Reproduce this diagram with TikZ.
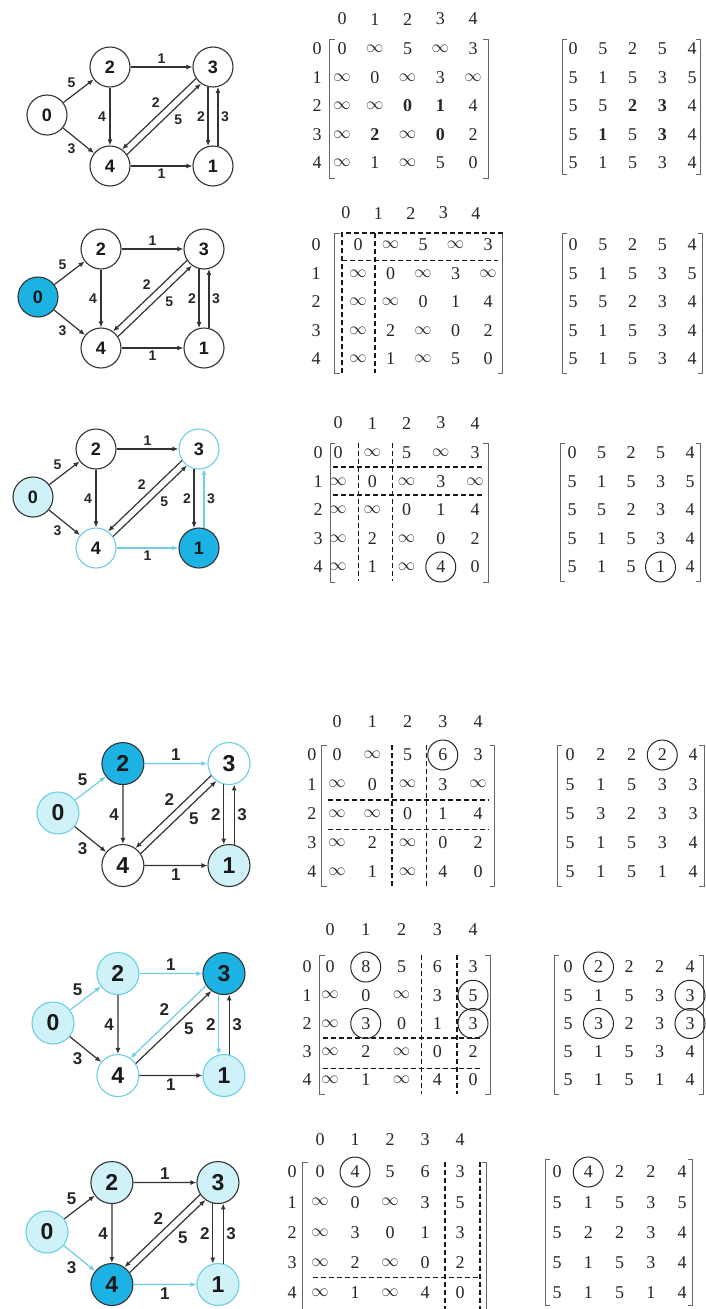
\documentclass[tikz,border=0pt]{standalone}
\usepackage{fontspec}
\setmainfont{Liberation Serif}
\setsansfont{Liberation Sans}
\usetikzlibrary{arrows.meta, positioning}
\definecolor{mCyan}{HTML}{1CB2E3}
\definecolor{mPale}{HTML}{CFF2F8}
\definecolor{mEdge}{HTML}{6FCDE5}
\definecolor{mInk}{HTML}{333333}
\newcommand{\inft}{$\infty$}

% the weighted digraph, nodes named #1-0 ... #1-4
\newcommand{\drawgraph}[1]{%
  \node[vtx,n0] (#1-0) at (0,0) {0};
  \node[vtx,n2] (#1-2) at (63,-48) {2};
  \node[vtx,n3] (#1-3) at (166,-48) {3};
  \node[vtx,n4] (#1-4) at (63,51) {4};
  \node[vtx,n1] (#1-1) at (166,51) {1};
  \draw[link,e02] (#1-0) -- node[wt,above left] {5} (#1-2);
  \draw[link,e04] (#1-0) -- node[wt,below left] {3} (#1-4);
  \draw[link,e23] (#1-2) -- node[wt,above] {1} (#1-3);
  \draw[link,e24] (#1-2) -- node[wt,left=1pt] {4} (#1-4);
  \draw[link,e34] (#1-3.214) -- node[wt,above left,pos=.45] {2} (#1-4.54);
  \draw[link,e43] (#1-4.34) -- node[wt,below right,pos=.6] {5} (#1-3.234);
  \draw[link,e31] (#1-3.256) -- node[wt,left] {2} (#1-1.104);
  \draw[link,e13] (#1-1.76) -- node[wt,right] {3} (#1-3.284);
  \draw[link,e41] (#1-4) -- node[wt,below] {1} (#1-1);
}
% column header and row labels of a matrix
\newcommand{\axes}[4]{%
  \foreach \cl in {0,...,4} \node[ent] (#1h\cl) at (\cl+#2,#3) {\cl};
  \foreach \rw in {0,...,4} \node[ent] (#1r\rw) at (#4,\rw) {\rw};
}
% entries, row by row
\newcommand{\fillmat}[2]{%
  \foreach \row [count=\rw from 0] in {#2}
    \foreach \val [count=\cl from 0] in \row
      \node[ent] (#1-\rw-\cl) at (\cl,\rw) {\val};
}
\newcommand{\brackets}[4]{%
  \draw[brk] (#1+0.15,#3) -| (#1,#4) -- ++(0.15,0);
  \draw[brk] (#2-0.15,#3) -| (#2,#4) -- ++(-0.15,0);
}

\begin{document}
\begin{tikzpicture}[x=1pt, y=-1pt,
    vtx/.style={circle, draw=mInk, fill=white, line width=1.1pt, minimum size=40pt, inner sep=0pt,
      text=black!90, font=\sffamily\bfseries\fontsize{18}{18}\selectfont},
    wt/.style={inner sep=2.5pt, text=black!85, font=\sffamily\bfseries\fontsize{14}{14}\selectfont},
    link/.style={draw=mInk, line width=1.2pt, -{Latex[length=6pt,width=5pt]}},
    big/.style={vtx/.append style={minimum size=42pt, font=\sffamily\bfseries\fontsize{23}{23}\selectfont},
      wt/.append style={font=\sffamily\bfseries\fontsize{17}{17}\selectfont}},
    cur/.style={fill=mCyan}, pale/.style={fill=mPale}, lt/.style={draw=mEdge},
    hot/.style={draw=mEdge},
    n0/.style={}, n1/.style={}, n2/.style={}, n3/.style={}, n4/.style={},
    e02/.style={}, e04/.style={}, e23/.style={}, e24/.style={}, e34/.style={},
    e43/.style={}, e31/.style={}, e13/.style={}, e41/.style={},
    ent/.style={inner sep=0pt, text=black!85, font=\fontsize{18}{18}\selectfont},
    brk/.style={draw=black!60, line width=1pt},
    dsh/.style={draw=black!90, line width=1.2pt, dash pattern=on 5pt off 3pt},
    hit/.style={draw=black!85, line width=1pt}]
  \useasboundingbox (0,0) rectangle (706,1309);

  % step 1: the graph as given
  \begin{scope}[shift={(47,115)}]
    \drawgraph{a}
  \end{scope}
  \begin{scope}[shift={(342,49)}, x=32.75pt, y=-28.5pt]
    \axes{aL}{0}{-1.05}{-0.76}
    \fillmat{aL}{{0,\inft,5,\inft,3},{\inft,0,\inft,3,\inft},{\inft,\inft,\textbf{0},\textbf{1},4},
      {\inft,\textbf{2},\inft,\textbf{0},2},{\inft,1,\inft,5,0}}
    \brackets{-0.37}{4.46}{-0.32}{4.53}
  \end{scope}
  \begin{scope}[shift={(573,49)}, x=29.75pt, y=-28.5pt]
    \fillmat{aR}{{0,5,2,5,4},{5,1,5,3,5},{5,5,\textbf{2},\textbf{3},4},{5,\textbf{1},5,\textbf{3},4},{5,1,5,3,4}}
    \brackets{-0.34}{4.27}{-0.35}{4.42}
  \end{scope}

  % step 2: source 0
  \begin{scope}[shift={(38,297)}, n0/.style=cur]
    \drawgraph{b}
  \end{scope}
  \begin{scope}[shift={(358,245)}, x=32.5pt, y=-28.5pt]
    \axes{bL}{-0.37}{-1.12}{-1.29}
    \fillmat{bL}{{0,\inft,5,\inft,3},{\inft,0,\inft,3,\inft},{\inft,\inft,0,1,4},{\inft,2,\inft,0,2},{\inft,1,\inft,5,0}}
    \brackets{-0.71}{4.46}{-0.42}{4.5}
    \draw[dsh] (-0.49,4.5) |- (4.46,-0.42);
    \draw[dsh] (0.52,-0.42) -- (0.52,4.5) (-0.49,0.53) -- (4.3,0.53);
  \end{scope}
  \begin{scope}[shift={(573,245)}, x=29.75pt, y=-28.5pt]
    \fillmat{bR}{{0,5,2,5,4},{5,1,5,3,5},{5,5,2,3,4},{5,1,5,3,4},{5,1,5,3,4}}
    \brackets{-0.34}{4.34}{-0.4}{4.5}
  \end{scope}

  % step 3: node 1
  \begin{scope}[shift={(33,497)}, n0/.style=pale, n3/.style=lt, n4/.style=lt, n1/.style=cur,
      e41/.style=hot, e13/.style=hot]
    \drawgraph{c}
  \end{scope}
  \begin{scope}[shift={(338,453)}, x=34.25pt, y=-28.5pt]
    \axes{cL}{0}{-1.05}{-0.58}
    \fillmat{cL}{{0,\inft,5,\inft,3},{\inft,0,\inft,3,\inft},{\inft,\inft,0,1,4},{\inft,2,\inft,0,2},{\inft,1,\inft,4,0}}
    \brackets{-0.23}{4.38}{-0.35}{4.53}
    \draw[dsh] (0.61,-0.35) -- (0.61,4.5) (1.58,-0.35) -- (1.58,4.5)
      (-0.15,0.49) -- (4.2,0.49) (-0.15,1.47) -- (4.2,1.47);
    \draw[hit] (cL-4-3) circle [radius=15pt];
  \end{scope}
  \begin{scope}[shift={(572,453)}, x=29.5pt, y=-28.5pt]
    \fillmat{cR}{{0,5,2,5,4},{5,1,5,3,5},{5,5,2,3,4},{5,1,5,3,4},{5,1,5,1,4}}
    \brackets{-0.4}{4.34}{-0.35}{4.5}
    \draw[hit] (cR-4-3) circle [radius=15pt];
  \end{scope}

  % step 4: node 2
  \begin{scope}[shift={(58,813)}, scale=1.03, big, n0/.style={pale,lt}, n2/.style=cur, n3/.style=lt,
      n1/.style=pale, e02/.style=hot, e23/.style=hot]
    \drawgraph{d}
  \end{scope}
  \begin{scope}[shift={(337,755)}, x=35.25pt, y=-29.25pt]
    \axes{dL}{0}{-1.13}{-0.71}
    \fillmat{dL}{{0,\inft,5,6,3},{\inft,0,\inft,3,\inft},{\inft,\inft,0,1,4},{\inft,2,\inft,0,2},{\inft,1,\inft,4,0}}
    \brackets{-0.43}{4.48}{-0.34}{4.5}
    \draw[dsh] (1.56,-0.34) -- (1.56,4.5) (2.55,-0.34) -- (2.55,4.5)
      (-0.26,1.54) -- (4.28,1.54) (-0.26,2.56) -- (4.28,2.56);
    \draw[hit] (dL-0-3) circle [radius=15pt];
  \end{scope}
  \begin{scope}[shift={(570,755)}, x=30.75pt, y=-29.25pt]
    \fillmat{dR}{{0,2,2,2,4},{5,1,5,3,3},{5,3,2,3,3},{5,1,5,3,4},{5,1,5,1,4}}
    \brackets{-0.42}{4.36}{-0.34}{4.5}
    \draw[hit] (dR-0-3) circle [radius=15pt];
  \end{scope}

  % step 5: node 3
  \begin{scope}[shift={(53,1023)}, scale=1.03, big, n0/.style={pale,lt}, n2/.style={pale,lt},
      n3/.style=cur, n4/.style=lt, n1/.style={pale,lt},
      e02/.style=hot, e23/.style=hot, e34/.style=hot, e31/.style=hot]
    \drawgraph{e}
  \end{scope}
  \begin{scope}[shift={(330,967)}, x=35.75pt, y=-28.25pt]
    \axes{eL}{0}{-1.31}{-0.64}
    \fillmat{eL}{{0,8,5,6,3},{\inft,0,\inft,3,5},{\inft,3,0,1,3},{\inft,2,\inft,0,2},{\inft,1,\inft,4,0}}
    \brackets{-0.28}{4.48}{-0.4}{4.53}
    \draw[dsh] (2.57,-0.42) -- (2.57,4.5) (3.55,-0.42) -- (3.55,4.5)
      (-0.2,2.51) -- (4.25,2.51) (-0.2,3.58) -- (4.25,3.58);
    \foreach \cel in {0-1,1-4,2-1,2-4} \draw[hit] (eL-\cel) circle [radius=15pt];
  \end{scope}
  \begin{scope}[shift={(568,967)}, x=30.5pt, y=-28.25pt]
    \fillmat{eR}{{0,2,2,2,4},{5,1,5,3,3},{5,3,2,3,3},{5,1,5,3,4},{5,1,5,1,4}}
    \brackets{-0.43}{4.45}{-0.4}{4.53}
    \foreach \cel in {0-1,1-4,2-1,2-4} \draw[hit] (eR-\cel) circle [radius=15pt];
  \end{scope}

  % step 6: node 4
  \begin{scope}[shift={(47,1232)}, scale=1.03, big, n0/.style={pale,lt}, n2/.style=pale,
      n3/.style=pale, n4/.style=cur, n1/.style={pale,lt}, e04/.style=hot, e41/.style=hot]
    \drawgraph{f}
  \end{scope}
  \begin{scope}[shift={(320,1172)}, x=35pt, y=-30.25pt]
    \axes{fL}{0}{-1.06}{-0.8}
    \fillmat{fL}{{0,4,5,6,3},{\inft,0,\inft,3,5},{\inft,3,0,1,3},{\inft,2,\inft,0,2},{\inft,1,\inft,4,0}}
    \brackets{-0.49}{4.77}{-0.33}{4.6}
    \draw[dsh] (3.57,-0.33) -- (3.57,4.6) (4.57,-0.33) -- (4.57,4.6) (-0.2,3.5) -- (4.57,3.5);
    \draw[hit] (fL-0-1) circle [radius=15pt];
  \end{scope}
  \begin{scope}[shift={(557,1172)}, x=31.25pt, y=-30.25pt]
    \fillmat{fR}{{0,4,2,2,4},{5,1,5,3,5},{5,2,2,3,4},{5,1,5,3,4},{5,1,5,1,4}}
    \brackets{-0.38}{4.35}{-0.4}{4.4}
    \draw[hit] (fR-0-1) circle [radius=15pt];
  \end{scope}
\end{tikzpicture}
\end{document}
